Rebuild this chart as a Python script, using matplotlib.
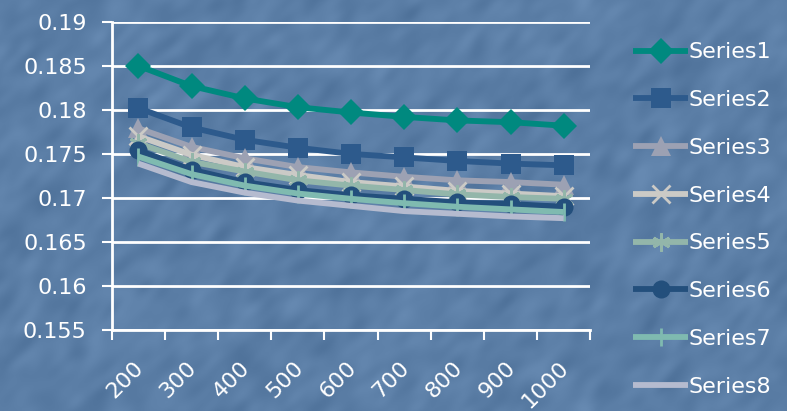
import matplotlib
matplotlib.use("Agg")
import matplotlib.pyplot as plt
import matplotlib.transforms as mtransforms
import numpy as np

# categories on the x axis
categories = ["200", "300", "400", "500", "600", "700", "800", "900", "1000"]

series1 = [0.1850, 0.1827, 0.1813, 0.1803, 0.1797, 0.1792, 0.1788, 0.1786, 0.1782]
series2 = [0.1802, 0.1780, 0.1766, 0.1757, 0.1750, 0.1746, 0.1742, 0.1739, 0.1737]
series3 = [0.1779, 0.1758, 0.1745, 0.1735, 0.1729, 0.1724, 0.1720, 0.1718, 0.1715]
series4 = [0.1770, 0.1749, 0.1735, 0.1726, 0.1718, 0.1713, 0.1708, 0.1705, 0.1702]
series5 = [0.1762, 0.1741, 0.1730, 0.1720, 0.1714, 0.1709, 0.1704, 0.1701, 0.1699]
series6 = [0.1754, 0.1732, 0.1718, 0.1709, 0.1703, 0.1699, 0.1695, 0.1693, 0.1690]
series7 = [0.1747, 0.1727, 0.1714, 0.1705, 0.1699, 0.1694, 0.1690, 0.1687, 0.1684]
series8 = [0.1739, 0.1718, 0.1706, 0.1697, 0.1691, 0.1685, 0.1682, 0.1679, 0.1677]

names = ["Series1", "Series2", "Series3", "Series4", "Series5", "Series6", "Series7", "Series8"]
all_series = [series1, series2, series3, series4, series5, series6, series7, series8]

colors = ["#00897f", "#2d5a8c", "#9ca1b3", "#cbcac6", "#93b6aa", "#234f7c", "#7fbab0", "#b5bbcf"]
markers = ["D", "s", "^", "x", (6, 2, 0), "o", "|", None]
msizes = [13, 14, 14, 13, 13, 13, 13, 0]

bg = "#5b7fa8"

fig = plt.figure(figsize=(7.87, 4.11), dpi=100, facecolor=bg)

# mottled slide background
rng = np.random.default_rng(3)
h, w = 411, 787
noise = rng.normal(size=(h, w))
fy = np.fft.fftfreq(h)[:, None]
fx = np.fft.fftfreq(w)[None, :]
u = fx * 0.7 + fy * 0.7
v = -fx * 0.7 + fy * 0.7
filt = np.exp(-(u / 0.05) ** 2 - (v / 0.025) ** 2)
tex = np.real(np.fft.ifft2(np.fft.fft2(noise) * filt))
tex = tex / tex.std()
base = np.array([91, 126, 166]) / 255.0
img = np.clip(base[None, None, :] + tex[:, :, None] * 0.015, 0, 1)
fig.figimage(img, 0, 0, zorder=-5)

ax = fig.add_axes([0.142, 0.197, 0.608, 0.750])
ax.set_zorder(2)
ax.patch.set_alpha(0)

x = np.arange(1, len(categories) + 1)
for vals, name, c, m, ms in zip(all_series, names, colors, markers, msizes):
    mew = 2.0 if m in ("x", "|", (6, 2, 0)) else 0
    ax.plot(x, vals, color=c, lw=4.2, marker=m, markersize=ms,
            markerfacecolor=c, markeredgecolor=c, markeredgewidth=mew,
            label=name, solid_joinstyle="round", solid_capstyle="butt")

ax.set_ylim(0.155, 0.19)
ax.set_xlim(0.5, len(categories) + 0.5)
ax.set_yticks(np.arange(0.155, 0.1901, 0.005))
ax.set_yticklabels(["0.155", "0.16", "0.165", "0.17", "0.175", "0.18", "0.185", "0.19"])
ax.yaxis.grid(True, color="white", lw=2)
ax.set_axisbelow(True)

# boundary ticks between categories, labels at the centres
ax.set_xticks(np.arange(0.5, len(categories) + 1, 1.0))
ax.set_xticklabels([])
ax.set_xticks(x, minor=True)
ax.set_xticklabels(categories, minor=True, rotation=45, ha="right", va="center",
                   rotation_mode="anchor")
ax.tick_params(axis="x", which="minor", length=0, pad=25, labelsize=16, labelcolor="white")
ax.tick_params(axis="x", which="major", length=7, width=1.5, color="white")
ax.tick_params(axis="y", length=7, width=1.5, color="white", labelsize=16,
               labelcolor="white", pad=11)
shift = mtransforms.ScaledTranslation(2 / 100, 0, fig.dpi_scale_trans)
for lbl in ax.get_xticklabels(minor=True):
    lbl.set_transform(lbl.get_transform() + shift)

for side in ("top", "right"):
    ax.spines[side].set_visible(False)
for side in ("left", "bottom"):
    ax.spines[side].set_color("white")
    ax.spines[side].set_linewidth(2)

leg = fig.legend(loc="upper left", bbox_to_anchor=(0.79, 0.924), frameon=False,
                 fontsize=16, labelcolor="white", handlelength=2.5,
                 handletextpad=0.0, labelspacing=1.25, borderpad=0)

fig.savefig("out.png", dpi=100, facecolor=bg)
